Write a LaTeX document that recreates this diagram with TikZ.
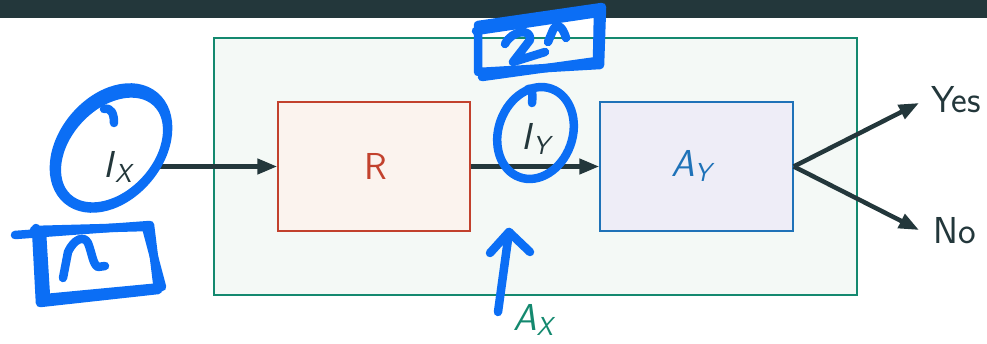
\documentclass[tikz,border=0pt]{standalone}
\usepackage{fontspec}
\usetikzlibrary{arrows.meta}
\renewcommand{\familydefault}{\sfdefault}
\definecolor{barcol}{HTML}{23373B}
\definecolor{frame}{HTML}{14896F}
\definecolor{framefill}{HTML}{F4F9F6}
\definecolor{rcol}{HTML}{C2412D}
\definecolor{rfill}{HTML}{FBF3EE}
\definecolor{acol}{HTML}{1F72B8}
\definecolor{afill}{HTML}{EEEDF7}
\definecolor{pen}{HTML}{0B6EF5}
% italic variable with a subscript
\newcommand{\mvar}[2]{\textit{#1}\raisebox{-5pt}{\fontsize{26}{26}\selectfont\textit{#2}}}
\tikzset{
  block/.style={draw, line width=1.5pt, minimum width=192pt, minimum height=129pt, inner sep=0pt},
  flow/.style={draw=barcol, line width=4.5pt, -{Triangle[length=20pt,width=15pt]}},
  lbl/.style={inner sep=0pt, font=\sffamily\fontsize{37.5}{40}\selectfont},
  ink/.style={draw=pen, line width=8.5pt, line cap=round, line join=round},
}
\begin{document}
\begin{tikzpicture}[x=1pt,y=1pt]
\useasboundingbox (0,0) rectangle (987,343);
% title bar
\fill[barcol] (0,325) rectangle (987,343);
% outer frame
\node[draw=frame, fill=framefill, line width=1.5pt, minimum width=643pt, minimum height=257pt, inner sep=0pt] (outer) at (535.5,176.5) {};
% blocks
\node[block, draw=rcol, fill=rfill] (R) at (374,176.5) {};
\node[block, draw=acol, fill=afill, minimum width=193pt] (AY) at (696.5,176.5) {};
\node[lbl, text=rcol, anchor=base] (Rt) at (376,163) {R};
\node[lbl, text=acol, anchor=base west] (AYt) at (671,166) {\mvar{A}{Y}};
% labels
\node[lbl, text=barcol, anchor=base west] (IX) at (103,165) {\mvar{I}{X}};
\node[lbl, text=barcol, anchor=base west] (IY) at (521,193) {\mvar{I}{Y}};
\node[lbl, text=frame, anchor=base west] (AX) at (513,13) {\mvar{A}{X}};
\node[lbl, text=barcol, anchor=base west] (yes) at (931,230) {Yes};
\node[lbl, text=barcol, anchor=base west] (no) at (933,100) {No};
% connectors
\coordinate (ixend) at (160,176.5);
\coordinate (yestip) at (919,240);
\coordinate (notip) at (919,113);
\draw[flow] (ixend) -- (R.west);
\draw[flow] (R.east) -- (AY.west);
\draw[flow] (AY.east) -- (yestip);
\draw[flow] (AY.east) -- (notip);
% pen annotations
\draw[ink] (111,195) ellipse[x radius=68, y radius=48, rotate=50];
\draw[ink] (112,193) ellipse[x radius=65, y radius=45, rotate=47];
\draw[ink] (104,234) .. controls (112,236) and (114,228) .. (114,220);
\draw[ink] (15,108) -- (150,118) -- (158,53) -- (40,40) -- (36,115);
\draw[ink] (34,113) -- (146,116) -- (162,56) -- (46,45) -- (42,110);
\draw[ink] (63,65) -- (68,91) .. controls (74,104) and (84,108) .. (88,100)
  .. controls (92,90) and (93,78) .. (98,76) -- (105,77);
\draw[ink] (535.5,210) ellipse[x radius=47, y radius=37, rotate=70];
\draw[ink] (528,254) .. controls (532,256) and (533,250) .. (532,240);
\draw[ink] (478,318) -- (602,336) -- (600,278) -- (478,271) -- cycle;
\draw[ink] (476,312) -- (598,330) -- (597,282) -- (482,266);
\draw[ink] (505,299) .. controls (512,313) and (532,315) .. (530,303) -- (513,281) -- (545,291);
\draw[ink] (548,301) -- (553,313) .. controls (556,319) and (562,319) .. (566,305);
\draw[ink] (498,31) -- (509,111);
\draw[ink] (490,90) -- (509,111) -- (530,91);
\end{tikzpicture}
\end{document}
